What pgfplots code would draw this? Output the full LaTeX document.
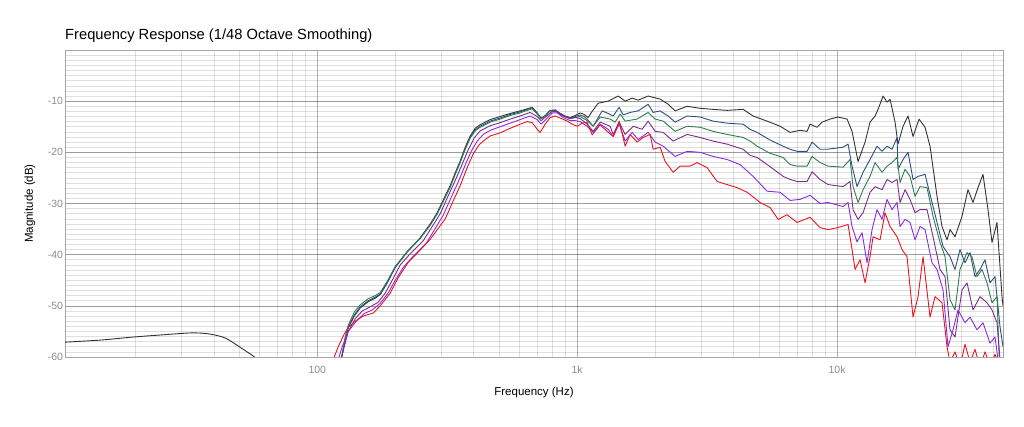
\documentclass[border=0pt]{standalone}
\usepackage{fontspec}
\setmainfont{Liberation Sans}
\usepackage{pgfplots}
\pgfplotsset{compat=1.18}
\definecolor{cblack}{HTML}{333333}
\definecolor{cblue}{HTML}{2B4F80}
\definecolor{cgreen}{HTML}{2E7D50}
\definecolor{cpurple}{HTML}{7D2C8E}
\definecolor{cviolet}{HTML}{8A2BE2}
\definecolor{cred}{HTML}{E8141E}
\begin{document}
\begin{tikzpicture}[x=1pt,y=1pt]
\path (0,0) rectangle (1024,427);
\begin{axis}[
  at={(65pt,70pt)}, anchor=south west,
  scale only axis, width=938pt, height=307pt,
  xmode=log, xmin=10.7, xmax=43500, ymin=-60, ymax=0,
  xtick={100,1000,10000}, xticklabels={100,1k,10k},
  minor xtick={20,30,40,50,60,70,80,90,200,300,400,500,600,700,800,900,2000,3000,4000,5000,6000,7000,8000,9000,20000,30000,40000},
  ytick={-60,-50,-40,-30,-20,-10}, yticklabels={-60,-50,-40,-30,-20,-10},
  minor ytick={-59,-58,...,-1},
  grid=both,
  major grid style={draw=black, draw opacity=0.3, line width=0.6pt},
  minor grid style={draw=black, draw opacity=0.12, line width=0.6pt},
  major tick length=0pt, minor tick length=0pt,
  axis line style={draw=black!35},
  tick label style={font=\fontsize{10.5}{12}\selectfont, text=black!45},
  xticklabel style={yshift=-5.5pt},
  yticklabel style={xshift=1.5pt},
  xlabel={Frequency (Hz)}, ylabel={Magnitude (dB)},
  label style={font=\fontsize{11.5}{13}\selectfont},
  xlabel style={at={(axis description cs:0.5,-0.117)}, anchor=center},
  ylabel style={at={(axis description cs:-0.0373,0.5)}, anchor=center},
  every axis plot/.append style={line width=0.9pt, line join=round},
]
\addplot[cblack, smooth] coordinates {(10.7,-57.1)(14.6,-56.7)(19.6,-56.1)(24.9,-55.7)(32.5,-55.3)(37.1,-55.4)(41.2,-55.8)(44.3,-56.3)(47.5,-57.2)(51.9,-58.5)(56.7,-59.8)(58.8,-60.5)};
\addplot[cblack] coordinates {(122.6,-61.5)(124.8,-59.6)(128.2,-56.5)(131.6,-54.3)(138.8,-52)(146.3,-50.4)(157.1,-49.2)(167.2,-48.5)(174.7,-47.8)(185.9,-45.5)(199.6,-42.4)(221.9,-39.4)(249.0,-36.7)(272.0,-34)(289.4,-31.8)(310.7,-28.5)(324.7,-26.5)(339.4,-24)(354.8,-21.7)(370.9,-19)(387.7,-16.8)(405.2,-15.3)(423.6,-14.6)(462.8,-13.6)(505.7,-13.0)(552.5,-12.4)(603.6,-11.9)(642.2,-11.5)(671.3,-11.2)(701.7,-12.3)(727.0,-13.3)(753.3,-12.8)(787.3,-11.8)(823.1,-11.7)(860.2,-12.4)(899.3,-12.9)(939.9,-13.2)(982.6,-12.8)(1027,-12.3)(1064,-12.6)(1102,-13.2)(1142,-12.0)(1204,-10.4)(1316,-10.0)(1438,-9.0)(1530,-10.0)(1628,-9.4)(1716,-9.8)(1875,-9.0)(2086,-9.6)(2239,-10.6)(2382,-11.9)(2649,-11.0)(2972,-11.4)(3335,-11.6)(3775,-11.8)(4350,-11.6)(4753,-12.9)(5380,-13.9)(6036,-14.9)(6595,-16.1)(7206,-15.7)(7667,-15.9)(7873,-14.5)(8377,-15.1)(8757,-14.1)(9399,-13.5)(10089,-13.1)(10925,-13.5)(11420,-15.9)(12044,-21.8)(12816,-18.0)(13394,-14.1)(14002,-12.9)(14378,-11.6)(15029,-9.0)(15571,-10.2)(15990,-9.6)(16716,-14.1)(17164,-18.4)(17942,-14.9)(18754,-12.9)(19604,-16.9)(20675,-13.5)(21804,-15.1)(22788,-18.8)(24245,-28.6)(25343,-34.5)(26490,-37.1)(27203,-35.1)(28437,-36.5)(30251,-32.5)(31901,-27.3)(33346,-29.8)(34857,-26.9)(36436,-24.3)(38086,-31.2)(39460,-37.6)(41250,-33.7)(43119,-48.2)(43502,-50)};
\addplot[cblue] coordinates {(122.6,-61)(124.8,-59.4)(128.2,-56.3)(131.6,-54.2)(138.8,-51.8)(146.3,-50.2)(157.1,-49.0)(167.2,-48.3)(174.7,-47.7)(185.9,-45.5)(199.6,-42.5)(221.9,-39.5)(249.0,-36.8)(272.0,-34.2)(289.4,-32)(310.7,-28.7)(324.7,-26.7)(339.4,-24.2)(354.8,-21.9)(370.9,-19.3)(387.7,-17.1)(405.2,-15.6)(423.6,-14.9)(462.8,-13.9)(505.7,-13.3)(552.5,-12.6)(603.6,-12.1)(642.2,-11.6)(671.3,-11.3)(701.7,-12.4)(727.0,-13.4)(753.3,-12.9)(787.3,-11.9)(823.1,-11.8)(860.2,-12.5)(899.3,-13.0)(939.9,-13.3)(982.6,-13.0)(1027,-12.7)(1064,-13.0)(1092,-13.5)(1152,-14.9)(1248,-11.9)(1316,-12.4)(1376,-12.9)(1451,-11.2)(1503,-12.7)(1599,-12.2)(1716,-11.9)(1875,-10.6)(1960,-12.2)(2086,-11.9)(2239,-12.9)(2382,-14.1)(2649,-12.9)(2972,-13.1)(3335,-13.9)(3775,-14.3)(4350,-14.5)(4628,-15.5)(4924,-16.1)(5525,-17.6)(6199,-18.8)(6595,-19.4)(7017,-19.8)(7667,-19.8)(8014,-18.0)(8602,-19.4)(9153,-19.4)(10546,-19.0)(11022,-18.4)(11420,-22.7)(11938,-26.7)(12590,-23.9)(13394,-21.4)(14251,-18.8)(14897,-19.8)(15571,-18.8)(16276,-19.4)(17013,-17.1)(17164,-23.3)(17942,-21.4)(18754,-20.0)(19604,-25.3)(20492,-24.7)(21804,-24.3)(23196,-29.8)(24461,-34.5)(25569,-38.4)(27203,-40.4)(28437,-42.9)(29718,-39.0)(31067,-41.6)(32471,-39.6)(33944,-44.3)(35479,-42.9)(37089,-41.0)(38765,-45.5)(40525,-44.3)(42360,-54.1)(43502,-58)};
\addplot[cgreen] coordinates {(122.6,-61.3)(124.8,-59.5)(128.2,-56)(131.6,-53.8)(138.8,-51.2)(146.3,-49.8)(157.1,-48.6)(167.2,-48.0)(174.7,-47.4)(185.9,-45.2)(199.6,-42.3)(221.9,-39.4)(249.0,-36.8)(272.0,-34.2)(289.4,-32)(310.7,-28.8)(324.7,-26.8)(339.4,-24.3)(354.8,-22.0)(370.9,-19.4)(387.7,-17.2)(405.2,-15.8)(423.6,-15.1)(462.8,-14.1)(505.7,-13.5)(552.5,-12.8)(603.6,-12.3)(642.2,-11.8)(671.3,-11.5)(701.7,-12.5)(727.0,-13.4)(753.3,-12.9)(787.3,-11.9)(823.1,-11.9)(860.2,-12.6)(899.3,-13.1)(939.9,-13.4)(982.6,-13.2)(1027,-13.0)(1092,-13.8)(1152,-14.9)(1226,-13.1)(1339,-13.5)(1400,-14.1)(1463,-12.5)(1530,-13.9)(1701,-13.5)(1875,-12.2)(1996,-13.5)(2142,-13.9)(2382,-15.9)(2649,-14.9)(2972,-15.1)(3335,-15.9)(3775,-16.5)(4350,-17.1)(4628,-17.8)(4924,-18.8)(5525,-20.2)(6199,-21.0)(6595,-22.4)(7017,-22.7)(7667,-22.7)(8014,-20.8)(8602,-22.0)(9235,-22.7)(10546,-22.9)(11219,-21.4)(11521,-26.7)(12044,-29.8)(12590,-27.3)(13394,-24.7)(14002,-22.0)(14897,-23.9)(15571,-22.7)(16276,-22.0)(17013,-21.0)(17471,-25.9)(18264,-23.3)(19089,-24.7)(19955,-28.6)(20857,-26.7)(22191,-26.9)(23403,-32.5)(24897,-37.6)(26027,-40.4)(27203,-48.8)(28437,-50.8)(29718,-42.9)(31620,-39.6)(33052,-40.4)(34550,-44.3)(36115,-42.9)(37750,-45.5)(39460,-49.4)(41250,-48.2)(41988,-59.2)(42360,-62)};
\addplot[cpurple] coordinates {(122.6,-61)(127.0,-58)(131.6,-55)(140.0,-52.5)(149.0,-51)(159.9,-50.2)(171.6,-49.3)(182.6,-47.5)(194.3,-45)(208.6,-42)(227.9,-39.8)(255.7,-37.3)(297.2,-32)(319.0,-28.5)(339.4,-25.5)(361.2,-22.3)(380.9,-19.5)(401.7,-17.2)(423.6,-15.8)(462.8,-14.8)(505.7,-14.2)(552.5,-13.5)(603.6,-12.9)(659.5,-12.2)(701.7,-13.0)(727.0,-13.8)(760.0,-13.0)(801.4,-12.0)(837.7,-12.0)(883.4,-12.8)(939.9,-13.4)(982.6,-13.2)(1027,-13.4)(1092,-14.5)(1152,-15.9)(1226,-14.1)(1339,-14.9)(1376,-16.5)(1451,-14.1)(1530,-16.5)(1642,-14.9)(1778,-15.5)(1875,-13.9)(1996,-15.9)(2142,-16.1)(2340,-17.8)(2649,-16.5)(2972,-17.1)(3335,-17.8)(3775,-18.4)(4350,-19.4)(4628,-20.6)(4924,-21.0)(5525,-22.8)(6199,-24.7)(6595,-25.3)(7017,-25.7)(7667,-25.7)(8014,-23.8)(8602,-25.3)(9235,-26.3)(10546,-26.7)(11219,-25.7)(11521,-31.2)(12044,-33.1)(12590,-31.8)(13394,-27.8)(14002,-26.7)(14897,-27.3)(15571,-25.3)(16276,-25.9)(17013,-25.3)(17471,-29.8)(18264,-27.3)(19089,-29.2)(19955,-31.8)(20857,-31.2)(22191,-31.2)(23403,-36.5)(24897,-42.9)(26027,-44.3)(27203,-54.7)(28437,-56.1)(30251,-46.9)(31620,-45.5)(33346,-50.8)(35479,-48.2)(37750,-49.4)(39460,-50.8)(41250,-53.3)(42360,-60.5)};
\addplot[cviolet] coordinates {(120.4,-60.5)(124.8,-58)(131.6,-55)(141.3,-53)(151.6,-51.5)(162.8,-50.8)(174.7,-49.5)(187.5,-47.5)(199.6,-45)(214.2,-42.5)(234.0,-40.3)(262.6,-37.8)(305.2,-32.3)(327.6,-28.8)(348.6,-25.8)(370.9,-22.5)(391.1,-19.8)(412.5,-17.8)(435.0,-16.5)(462.8,-15.7)(505.7,-15.0)(552.5,-14.3)(603.6,-13.6)(659.5,-12.9)(701.7,-13.6)(727.0,-14.5)(760.0,-13.5)(801.4,-12.3)(837.7,-12.3)(883.4,-13.2)(939.9,-13.8)(982.6,-13.8)(1027,-14.0)(1092,-14.9)(1152,-16.1)(1226,-14.5)(1316,-15.5)(1376,-16.9)(1451,-14.5)(1530,-17.8)(1628,-16.1)(1716,-17.5)(1875,-16.1)(1996,-18.0)(2142,-18.8)(2382,-20.8)(2649,-19.8)(2972,-20.0)(3335,-20.8)(3775,-21.4)(4236,-22.4)(4753,-24.7)(5380,-27.6)(6036,-27.8)(6595,-29.4)(7206,-29.2)(7873,-28.4)(8602,-30.0)(9235,-29.8)(10546,-30.6)(11022,-29.8)(11420,-34.5)(11938,-37.5)(12479,-35.7)(13043,-41.6)(13634,-35.1)(14251,-31.2)(14897,-33.1)(15571,-29.2)(16276,-31.2)(17013,-29.8)(17471,-34.5)(18264,-33.1)(19089,-33.7)(19955,-37.1)(20857,-34.5)(21804,-35.1)(23196,-41.6)(24245,-42.9)(25569,-46.9)(26726,-58.0)(27936,-54.7)(29198,-50.8)(31067,-53.3)(32471,-52.2)(34550,-54.7)(36436,-53.3)(38765,-57.3)(40525,-56.1)(41617,-60.5)};
\addplot[cred] coordinates {(115.2,-60.5)(120.4,-58)(127.0,-55.5)(131.6,-54.2)(140.0,-53)(150.3,-52)(164.2,-51.4)(174.7,-50)(190.9,-47.5)(204.9,-44.5)(223.9,-41.5)(244.6,-39.5)(272.0,-37)(310.7,-33)(333.5,-29.5)(354.8,-26.5)(377.5,-23)(398.1,-20.3)(419.9,-18.5)(442.8,-17.5)(462.8,-16.8)(505.7,-16.2)(552.5,-15.3)(603.6,-14.5)(642.2,-14.0)(671.3,-14.2)(701.7,-15.5)(720.6,-16.1)(753.3,-14.5)(787.3,-13.2)(823.1,-12.9)(860.2,-13.3)(915.3,-13.9)(956.8,-14.5)(1000,-14.9)(1045,-14.3)(1092,-14.1)(1142,-16.6)(1226,-14.6)(1304,-15.9)(1376,-16.9)(1451,-13.9)(1530,-18.8)(1599,-16.5)(1701,-18.0)(1794,-17.1)(1909,-16.5)(1960,-19.4)(2086,-19.0)(2180,-21.8)(2340,-23.9)(2490,-22.7)(2720,-22.7)(2894,-22.0)(3162,-23.0)(3455,-25.7)(3775,-26.3)(4125,-26.9)(4507,-27.8)(5057,-29.8)(5525,-30.8)(5930,-33.1)(6422,-32.2)(7017,-33.7)(7873,-32.7)(8602,-34.7)(9235,-35.1)(10089,-34.7)(11022,-34.1)(11420,-39.0)(11728,-42.9)(12259,-41.0)(12816,-45.5)(13394,-40.4)(13755,-36.5)(14634,-37.1)(15298,-31.8)(15990,-34.5)(17013,-36.5)(17784,-39.0)(18589,-40.4)(19604,-52.2)(20492,-48.2)(21420,-40.4)(22788,-52.2)(23822,-48.2)(25343,-49.4)(26490,-58.0)(27203,-61)(28437,-59)(29718,-62)(31067,-57.5)(32471,-61)(33944,-58.5)(35479,-62)(37089,-59)(38765,-61.5)(40525,-59.5)(42360,-62)};
\end{axis}
\node[anchor=base west, inner sep=0pt, font=\fontsize{14.7}{17}\selectfont] at (65,387.5) {Frequency Response (1/48 Octave Smoothing)};
\pgfresetboundingbox
\path (0,0) rectangle (1024,427);
\end{tikzpicture}
\end{document}
